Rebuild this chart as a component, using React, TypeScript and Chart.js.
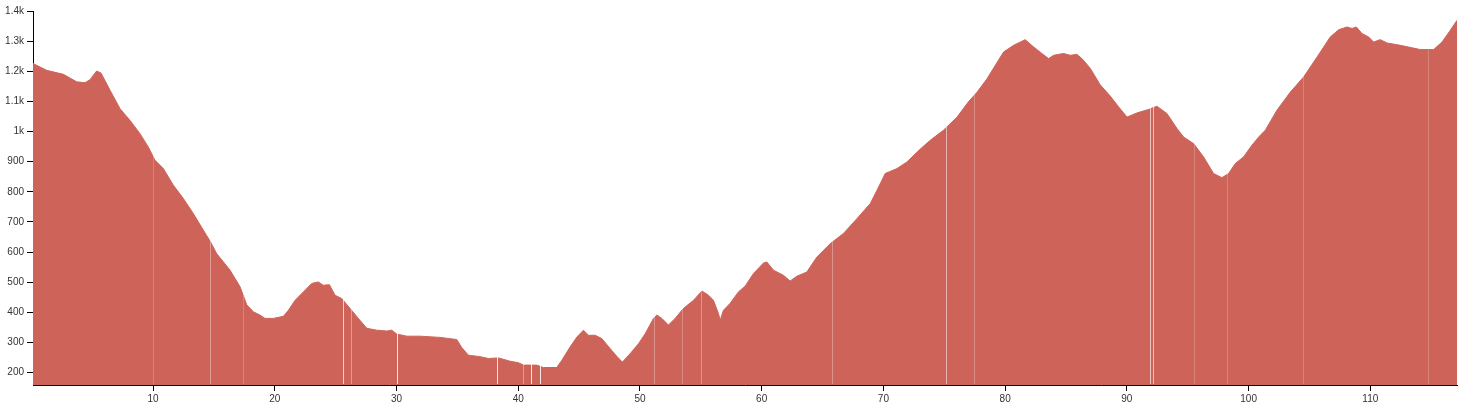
import { useEffect, useRef } from "react";
import { Chart, registerables } from "chart.js";

Chart.register(...registerables);

// Distance along the route (km) and elevation (m)
const DIST_KM = [
  0.14, 1.27, 2.63, 3.73, 4.41, 4.82, 5.37, 5.73, 6.47, 7.29, 8.11, 8.93, 9.61, 10.16, 10.85,
  11.67, 12.49, 13.31, 14.13, 14.68, 15.23, 16.33, 17.15, 17.7, 18.24, 18.79, 19.2, 19.88, 20.71,
  21.12, 21.67, 22.35, 23.04, 23.58, 23.99, 24.49, 24.95, 25.5, 26.19, 26.87, 27.56, 28.38, 29.2,
  29.61, 30.02, 30.85, 31.94, 33.58, 34.95, 35.37, 35.91, 36.87, 37.55, 38.37, 39.33, 40.02, 40.43,
  41.53, 42.07, 43.17, 43.58, 44.26, 44.82, 45.36, 45.77, 46.32, 46.87, 47.55, 48.1, 48.56, 49.19,
  49.88, 50.43, 51.11, 51.39, 51.8, 52.34, 52.89, 53.57, 54.4, 55.09, 55.63, 56.04, 56.45, 56.59,
  56.86, 57.41, 58.09, 58.64, 59.33, 60.15, 60.43, 60.97, 61.79, 62.34, 62.89, 63.71, 64.54, 65.63,
  66.72, 67.82, 68.92, 69.47, 70.15, 71.11, 71.93, 73.03, 73.85, 74.95, 76.05, 76.97, 77.68, 78.51,
  79.87, 80.69, 81.65, 82.33, 83.02, 83.57, 83.98, 84.8, 85.35, 85.9, 86.31, 86.99, 87.81, 88.63,
  89.32, 90.01, 90.85, 91.76, 92.47, 93.29, 94.12, 94.66, 95.48, 96.3, 97.12, 97.81, 98.36, 98.91,
  99.59, 100.28, 100.96, 101.37, 102.33, 103.43, 104.52, 105.62, 106.71, 107.4, 108.09, 108.5,
  108.85, 109.32, 109.86, 110.27, 110.82, 111.37, 112.47, 114.11, 115.2, 115.89, 116.57, 117.12,
];

const ELEV_M = [
  1226, 1203, 1190, 1165, 1162, 1172, 1201, 1194, 1137, 1076, 1037, 993, 949, 905, 877,
  822, 778, 728, 673, 637, 595, 540, 485, 425, 402, 391, 380, 380, 387,
  407, 440, 468, 496, 501, 490, 492, 457, 446, 413, 380, 347, 341, 338,
  341, 328, 321, 321, 317, 310, 283, 258, 253, 247, 249, 238, 233, 225,
  225, 217, 217, 241, 285, 318, 341, 324, 324, 313, 280, 254, 235, 263,
  296, 329, 380, 391, 380, 358, 380, 413, 440, 471, 457, 440, 396, 374,
  407, 430, 468, 487, 529, 564, 567, 540, 523, 504, 520, 534, 584, 628,
  662, 711, 761, 805, 861, 877, 899, 942, 971, 1005, 1048, 1098, 1130, 1175,
  1264, 1286, 1305, 1281, 1259, 1242, 1253, 1259, 1253, 1256, 1242, 1210, 1155, 1118,
  1082, 1048, 1062, 1073, 1084, 1060, 1010, 982, 960, 916, 861, 847, 861, 894,
  916, 955, 988, 1004, 1071, 1131, 1181, 1247, 1314, 1338, 1347, 1342,
  1347, 1325, 1314, 1297, 1305, 1294, 1286, 1272, 1272, 1297, 1336, 1369,
];

// Thin white gaps visible in the profile (km) and how strong they look
const GAP_KM = [
  10.0, 14.68, 17.39, 25.64, 26.27, 30.07, 38.24, 40.4, 41.02, 41.8, 51.19, 53.49, 55.03,
  65.77, 75.16, 77.41, 91.92, 92.14, 95.48, 98.23, 104.5, 114.77,
];
const GAP_ALPHA = [
  0.2, 0.35, 0.2, 0.7, 0.35, 0.85, 0.85, 0.35, 0.85, 0.85, 0.3, 0.25, 0.3,
  0.3, 0.5, 0.25, 0.6, 0.6, 0.2, 0.2, 0.2, 0.2,
];

const X_TICKS = [10, 20, 30, 40, 50, 60, 70, 80, 90, 100, 110];
const Y_TICKS = [200, 300, 400, 500, 600, 700, 800, 900, 1000, 1100, 1200, 1300, 1400];
const Y_TICK_LABELS = ["200", "300", "400", "500", "600", "700", "800", "900", "1k", "1.1k", "1.2k", "1.3k", "1.4k"];

const X_MIN = 0.14;
const X_MAX = 117.12;
const Y_MIN = 159;
const Y_MAX = 1400;

const FILL = "rgb(206, 100, 89)";
const FONT = { family: "'Liberation Sans', Arial, sans-serif", size: 10 };

const gapPlugin = {
  id: "gaps",
  afterDatasetsDraw(chart: any) {
    const { ctx, chartArea } = chart;
    const xs = chart.scales.x;
    ctx.save();
    ctx.beginPath();
    ctx.rect(chartArea.left + 1, chartArea.top, chartArea.right - chartArea.left - 1, chartArea.bottom - chartArea.top - 1);
    ctx.clip();
    ctx.globalCompositeOperation = "source-atop";
    ctx.lineWidth = 1;
    GAP_KM.forEach((km, i) => {
      const px = Math.round(xs.getPixelForValue(km)) + 0.5;
      ctx.strokeStyle = `rgba(255,255,255,${GAP_ALPHA[i]})`;
      ctx.beginPath();
      ctx.moveTo(px, chartArea.top);
      ctx.lineTo(px, chartArea.bottom);
      ctx.stroke();
    });
    ctx.restore();
  },
};

export default function App() {
  const ref = useRef<HTMLCanvasElement | null>(null);

  useEffect(() => {
    if (!ref.current) return;
    const chart = new Chart(ref.current, {
      type: "line",
      data: {
        datasets: [
          {
            data: DIST_KM.map((x, i) => ({ x, y: ELEV_M[i] })),
            fill: "start",
            backgroundColor: FILL,
            borderColor: FILL,
            borderWidth: 1,
            pointRadius: 0,
            tension: 0,
          },
        ],
      },
      options: {
        animation: false,
        responsive: true,
        maintainAspectRatio: false,
        layout: { padding: { top: 11, right: 2, left: 0, bottom: 0 } },
        plugins: { legend: { display: false }, tooltip: { enabled: false } },
        scales: {
          x: {
            type: "linear",
            min: X_MIN,
            max: X_MAX,
            afterBuildTicks: (s: any) => {
              s.ticks = X_TICKS.map((v) => ({ value: v }));
            },
            afterFit: (s: any) => {
              s.height = 22;
            },
            grid: { display: true, drawOnChartArea: false, drawTicks: true, tickLength: 6, color: "#000" },
            border: { display: true, color: "#000", width: 1 },
            ticks: {
              autoSkip: false,
              maxRotation: 0,
              padding: 2,
              color: "#333",
              font: FONT,
              callback: (v: any) => String(v),
            },
          },
          y: {
            type: "linear",
            min: Y_MIN,
            max: Y_MAX,
            afterBuildTicks: (s: any) => {
              s.ticks = Y_TICKS.map((v) => ({ value: v }));
            },
            afterFit: (s: any) => {
              s.width = 33;
            },
            grid: { display: true, drawOnChartArea: false, drawTicks: true, tickLength: 6, color: "#000" },
            border: { display: true, color: "#000", width: 1 },
            ticks: {
              autoSkip: false,
              padding: 3,
              color: "#333",
              font: FONT,
              callback: (v: any) => Y_TICK_LABELS[Y_TICKS.indexOf(Number(v))] ?? "",
            },
          },
        },
      },
      plugins: [gapPlugin],
    });
    return () => chart.destroy();
  }, []);

  return (
    <div style={{ position: "fixed", left: 0, top: 0, width: 1459, height: 407, background: "#fff" }}>
      <canvas ref={ref} />
    </div>
  );
}
